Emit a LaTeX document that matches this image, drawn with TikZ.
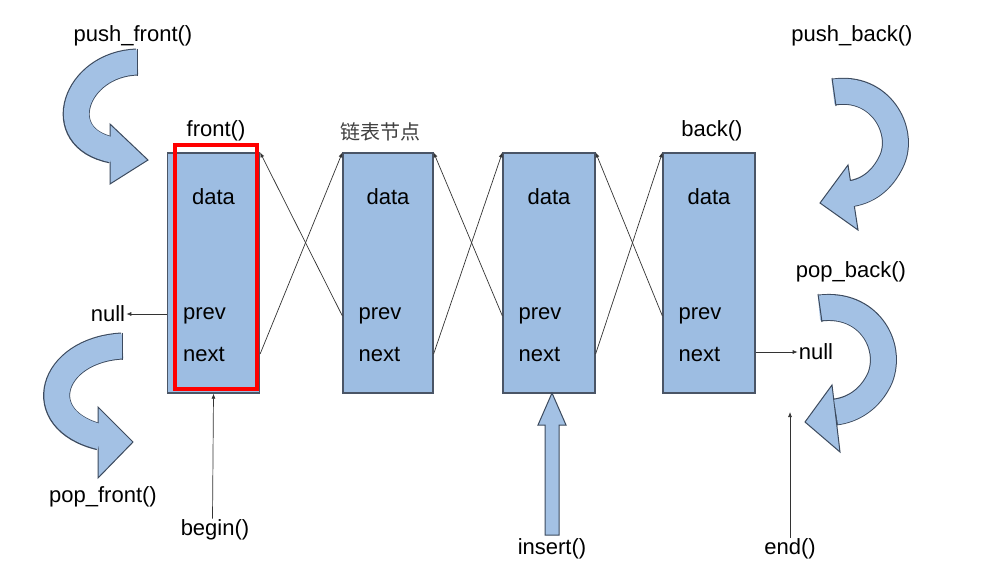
\documentclass[tikz,border=0pt]{standalone}
\usepackage{fontspec}
\setmainfont{Liberation Sans}
\newfontfamily\cjk{Noto Sans CJK SC}
\usetikzlibrary{arrows.meta,calc}
\definecolor{boxblue}{HTML}{9DBDE2}
\definecolor{boxedge}{HTML}{4A5566}
\definecolor{arrfill}{HTML}{A3C1E4}
\definecolor{arredge}{HTML}{3C4A5E}
\tikzset{
  nodebox/.style={draw=boxedge,fill=boxblue,line width=1.2pt,minimum width=92pt,minimum height=240pt,inner sep=0},
  lbl/.style={font=\fontsize{22}{24}\selectfont,inner sep=1pt},
  link/.style={draw=black!80,line width=0.7pt,-{Latex[length=5pt,width=4pt]}},
  bandout/.style={draw=arredge,line width=27pt},
  bandin/.style={draw=arrfill,line width=25pt},
  headshape/.style={fill=arrfill,draw=arredge,line width=1pt,line join=miter}
}
\begin{document}
\begin{tikzpicture}[x=1pt,y=-1pt]
\useasboundingbox (0,0) rectangle (981,571);
\fill[white] (0,0) rectangle (981,571);
% boxes
\node[nodebox] (b1) at (213.5,273) {};
\node[nodebox,minimum width=90pt] (b2) at (388,273) {};
\node[nodebox] (b3) at (549,273) {};
\node[nodebox] (b4) at (709,273) {};
\foreach \i in {1,2,3,4}{
  \node[lbl] (d\i) at ($(b\i.north)+(0,44)$) {data};
  \node[lbl,anchor=west] (p\i) at ($(b\i.west)+(15,43)$) {prev};
  \node[lbl,anchor=west] (n\i) at ($(b\i.west)+(15,81)$) {next};
}
\draw[red,line width=3.5pt] (175,145) rectangle (257,389);
\node[lbl] (front) at (216,131) {front()};
\node[lbl,font=\cjk\fontsize{20}{22}\selectfont,text=black!75] (cn) at (380,132) {链表节点};
\node[lbl] (back) at (712,131) {back()};
% links
\foreach \a/\b in {1/2,2/3,3/4}{
  \draw[link] (b\a.east |- n\a) -- (b\b.north west);
  \draw[link] (b\b.west |- p\b) -- (b\a.north east);
}
% nulls
\node[lbl] (nl) at (108,314) {null};
\node[lbl] (nr) at (816,352) {null};
\draw[link] (b1.west |- nl) -- (nl.east);
\draw[link] (b4.east |- nr) -- (nr.west);
% begin/end/insert
\node[lbl] (beg) at (215,530) {begin()};
\node[lbl] (ins) at (552,549) {insert()};
\node[lbl] (en) at (790,549) {end()};
\coordinate (endtip) at (790,412);
\draw[link] (beg.north -| b1.south) ++(-1,0) -- (b1.south);
\draw[link] (en.north) -- (endtip);
\filldraw[fill=arrfill,draw=arredge,line width=1pt] (545,535) -- (545,425) -- (538,425) -- (552,393) -- (566,425) -- (559,425) -- (559,535) -- cycle;
% labels for curved arrows
\node[lbl] (pf) at (133,36) {push\_front()};
\node[lbl] (pof) at (103,497) {pop\_front()};
\node[lbl] (pb) at (852,36) {push\_back()};
\node[lbl] (pob) at (851,272) {pop\_back()};
% push_front curved arrow
\draw[bandout] (137,62) .. controls (75,64) and (50,138) .. (112,150);
\filldraw[headshape] (110,124) -- (148,160) -- (110,184) -- cycle;
\draw[bandin] (137.5,62) .. controls (75,64) and (50,138) .. (113,150);
\draw[arredge,line width=1pt] (137,48.5) -- (137,75.5);
% pop_front curved arrow
\draw[bandout] (122,346) .. controls (50,350) and (30,420) .. (100,437);
\filldraw[headshape] (98,407) -- (133,442) -- (98,478) -- cycle;
\draw[bandin] (122.5,346) .. controls (50,350) and (30,420) .. (101,437);
\draw[arredge,line width=1pt] (122,332.5) -- (122,359.5);
% push_back curved arrow
\draw[bandout] (834,92) .. controls (880,85) and (905,130) .. (892,160) .. controls (882,182) and (866,192) .. (848,194);
\filldraw[headshape] (848,165) -- (820,203) -- (858,230) -- cycle;
\draw[bandin] (833,92) .. controls (880,85) and (905,130) .. (892,160) .. controls (882,182) and (866,192) .. (849,194);
\draw[arredge,line width=1pt] (832,78) -- (836,106);
% pop_back curved arrow
\draw[bandout] (820,308) .. controls (868,302) and (893,345) .. (880,378) .. controls (870,400) and (852,410) .. (835,412);
\filldraw[headshape] (832,385) -- (805,422) -- (840,452) -- cycle;
\draw[bandin] (819,308) .. controls (868,302) and (893,345) .. (880,378) .. controls (870,400) and (852,410) .. (836,412);
\draw[arredge,line width=1pt] (818,294) -- (822,322);
\end{tikzpicture}
\end{document}
